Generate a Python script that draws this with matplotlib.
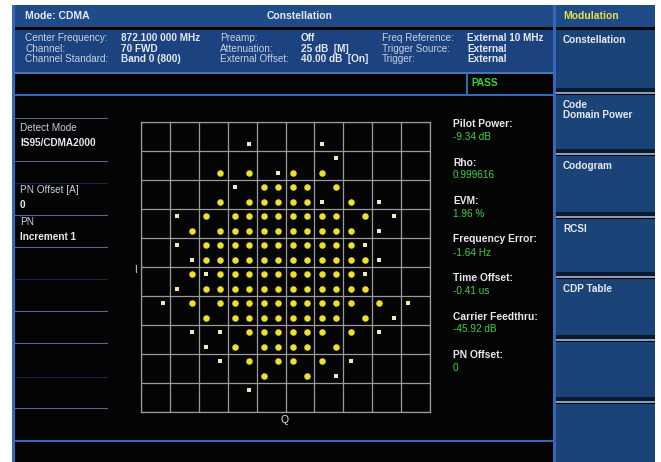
import matplotlib
matplotlib.use("Agg")
import matplotlib.pyplot as plt
from matplotlib.patches import Rectangle

plt.rcParams['font.family'] = ['Liberation Sans Narrow', 'Liberation Sans', 'DejaVu Sans']

# constellation: one string per I row (top to bottom), one char per Q column
# 'O' = dense cluster, 'o' = single sparse point, '.' = empty
lattice_rows = [
    "......o....o......",
    "............o.....",
    "....O.O.oO.O......",
    ".....o.OOOO.O.....",
    "....O.OOOOOo.O.o..",
    ".o.O.OOOOOOOO.O.o.",
    "..O.OOOOOOOOOO.o..",
    ".o.OOOOOOOOOOOo...",
    "..oOOOOOOOOOOOOo..",
    "..OoOOOOOOOOOOo...",
    ".o.OOOOOOOOOOOO...",
    "o.O.OOOOOOOOOO.O.o",
    "...O.OOOOOOOO.O.o.",
    "..o.o.OOOOOO.O.o..",
    "...o.O.OOOO.O.....",
    "....o.O.OO.O.o....",
    ".......O..O.o.....",
    "......o...........",
]
lattice_levels = [-4.25, -3.75, -3.25, -2.75, -2.25, -1.75, -1.25, -0.75, -0.25,
                  0.25, 0.75, 1.25, 1.75, 2.25, 2.75, 3.25, 3.75, 4.25]

header_left = "Mode: CDMA"
header_title = "Constellation"
menu_title = "Modulation"

info_labels_1 = ["Center Frequency:", "Channel:", "Channel Standard:"]
info_values_1 = ["872.100 000 MHz", "70 FWD", "Band 0 (800)"]
info_labels_2 = ["Preamp:", "Attenuation:", "External Offset:"]
info_values_2 = ["Off", "25 dB  [M]", "40.00 dB  [On]"]
info_labels_3 = ["Freq Reference:", "Trigger Source:", "Trigger:"]
info_values_3 = ["External 10 MHz", "External", "External"]
status_text = "PASS"

left_items = [("Detect Mode", "IS95/CDMA2000"), ("PN Offset [A]", "0"), ("PN", "Increment 1")]

result_labels = ["Pilot Power:", "Rho:", "EVM:", "Frequency Error:", "Time Offset:",
                 "Carrier Feedthru:", "PN Offset:"]
result_values = ["-9.34 dB", "0.999616", "1.96 %", "-1.64 Hz", "-0.41 us", "-45.92 dB", "0"]

softkeys = ["Constellation", "Code\nDomain Power", "Codogram", "RCSI", "CDP Table", "", ""]

W, H = 661, 462
fig = plt.figure(figsize=(W / 100, H / 100), dpi=100, facecolor='white')
bg = fig.add_axes([0, 0, 1, 1])
bg.set_xlim(0, W)
bg.set_ylim(H, 0)
bg.axis('off')

def box(x, y, w, h, fc, z=1):
    bg.add_patch(Rectangle((x, y), w, h, facecolor=fc, edgecolor='none', zorder=z))

blue_line = '#3566b8'
bar_blue = '#1f4b88'
panel_blue = '#1c4280'
key_blue = '#1a4478'
sep_grey = '#8c9cb8'
txt = '#e6e9f0'
green = '#3ed23e'

# screen
box(12, 5, 643, 457, '#040404')
box(12, 5, 3, 457, blue_line, 3)
# header + info panel
box(15, 5, 538, 22, bar_blue)
box(15, 30, 538, 42, panel_blue)
box(15, 72, 538, 1.5, '#4a74b8', 2)
box(15, 94, 538, 2, blue_line, 2)
box(466, 73, 2, 22, blue_line, 2)
box(15, 440, 538, 2, blue_line, 2)
box(553, 5, 3, 457, blue_line, 3)

bg.text(25, 16, header_left, color=txt, fontsize=7.5, fontweight='bold', va='center')
bg.text(300, 16, header_title, color=txt, fontsize=7.5, fontweight='bold', va='center', ha='center')

info_y = [38, 48.5, 58.5]
for col_x, val_x, labels, values in [(25, 121, info_labels_1, info_values_1),
                                     (220, 301, info_labels_2, info_values_2),
                                     (382, 467, info_labels_3, info_values_3)]:
    for yy, lab, val in zip(info_y, labels, values):
        bg.text(col_x, yy, lab, color='#c8d0e0', fontsize=7.2, va='center')
        bg.text(val_x, yy, val, color=txt, fontsize=7.2, fontweight='bold', va='center')
bg.text(471, 83, status_text, color=green, fontsize=7.2, fontweight='bold', va='center')

# right soft key column
box(556, 5, 99, 22, bar_blue)
bg.text(563, 16, menu_title, color='#e8e040', fontsize=7.5, fontweight='bold', va='center')
key_tops = [30, 95, 156, 219, 279, 342, 404]
key_bottoms = [93, 154, 217, 277, 340, 402, 462]
for label, top, bot in zip(softkeys, key_tops, key_bottoms):
    box(556, top, 99, bot - top, key_blue)
    if bot < H:
        box(556, bot - 5, 99, 4, '#0a1a30', 2)
        box(556, bot - 1, 99, 2.2, sep_grey, 2)
    if label:
        bg.text(563, top + 5, label, color=txt, fontsize=7.2, fontweight='bold', va='top',
                linespacing=0.95)

# left panel
for yy in [118, 161, 215, 247, 311, 343, 408]:
    box(15, yy, 93, 1.2, '#5a6890', 2)
for yy in [183, 279, 377]:
    box(15, yy, 93, 1.2, '#1c2448', 2)
for (lab, val), yy in zip(left_items, [128, 190, 222]):
    bg.text(20, yy, lab, color='#c8d0e0', fontsize=7.2, va='center')
    bg.text(20, yy + 15, val, color=txt, fontsize=7.2, fontweight='bold', va='center')

# results
for i, (lab, val) in enumerate(zip(result_labels, result_values)):
    yy = 124 + i * 38.5
    bg.text(453, yy, lab, color=txt, fontsize=7.4, fontweight='bold', va='center')
    bg.text(453, yy + 13, val, color=green, fontsize=7.2, va='center')

bg.text(135, 270, "I", color=txt, fontsize=7, va='center', ha='center')
bg.text(285, 420, "Q", color=txt, fontsize=7.5, va='center', ha='center')

# constellation axes
ax = fig.add_axes([141 / W, 1 - 412 / H, 289 / W, 290 / H])
ax.set_facecolor('#040404')
ax.set_xlim(-5, 5)
ax.set_ylim(-5, 5)
ax.set_xticks(range(-5, 6))
ax.set_yticks(range(-5, 6))
ax.tick_params(length=0, labelbottom=False, labelleft=False)
ax.grid(True, color='#9a9a9a', linewidth=0.9)
for s in ax.spines.values():
    s.set_color('#9a9a9a')
    s.set_linewidth(0.9)
ax.set_axisbelow(True)

big_q, big_i, small_q, small_i = [], [], [], []
for r, row in enumerate(lattice_rows):
    i_val = -lattice_levels[r]
    for c, ch in enumerate(row):
        if ch == 'O':
            big_q.append(lattice_levels[c])
            big_i.append(i_val)
        elif ch == 'o':
            small_q.append(lattice_levels[c])
            small_i.append(i_val)

ax.scatter(big_q, big_i, s=22, marker='o', color='#ece02a', linewidths=0, zorder=3)
ax.scatter(small_q, small_i, s=7, marker='s', color='#ecebb8', linewidths=0, zorder=3)

fig.savefig('out.png', dpi=100, facecolor='white')
